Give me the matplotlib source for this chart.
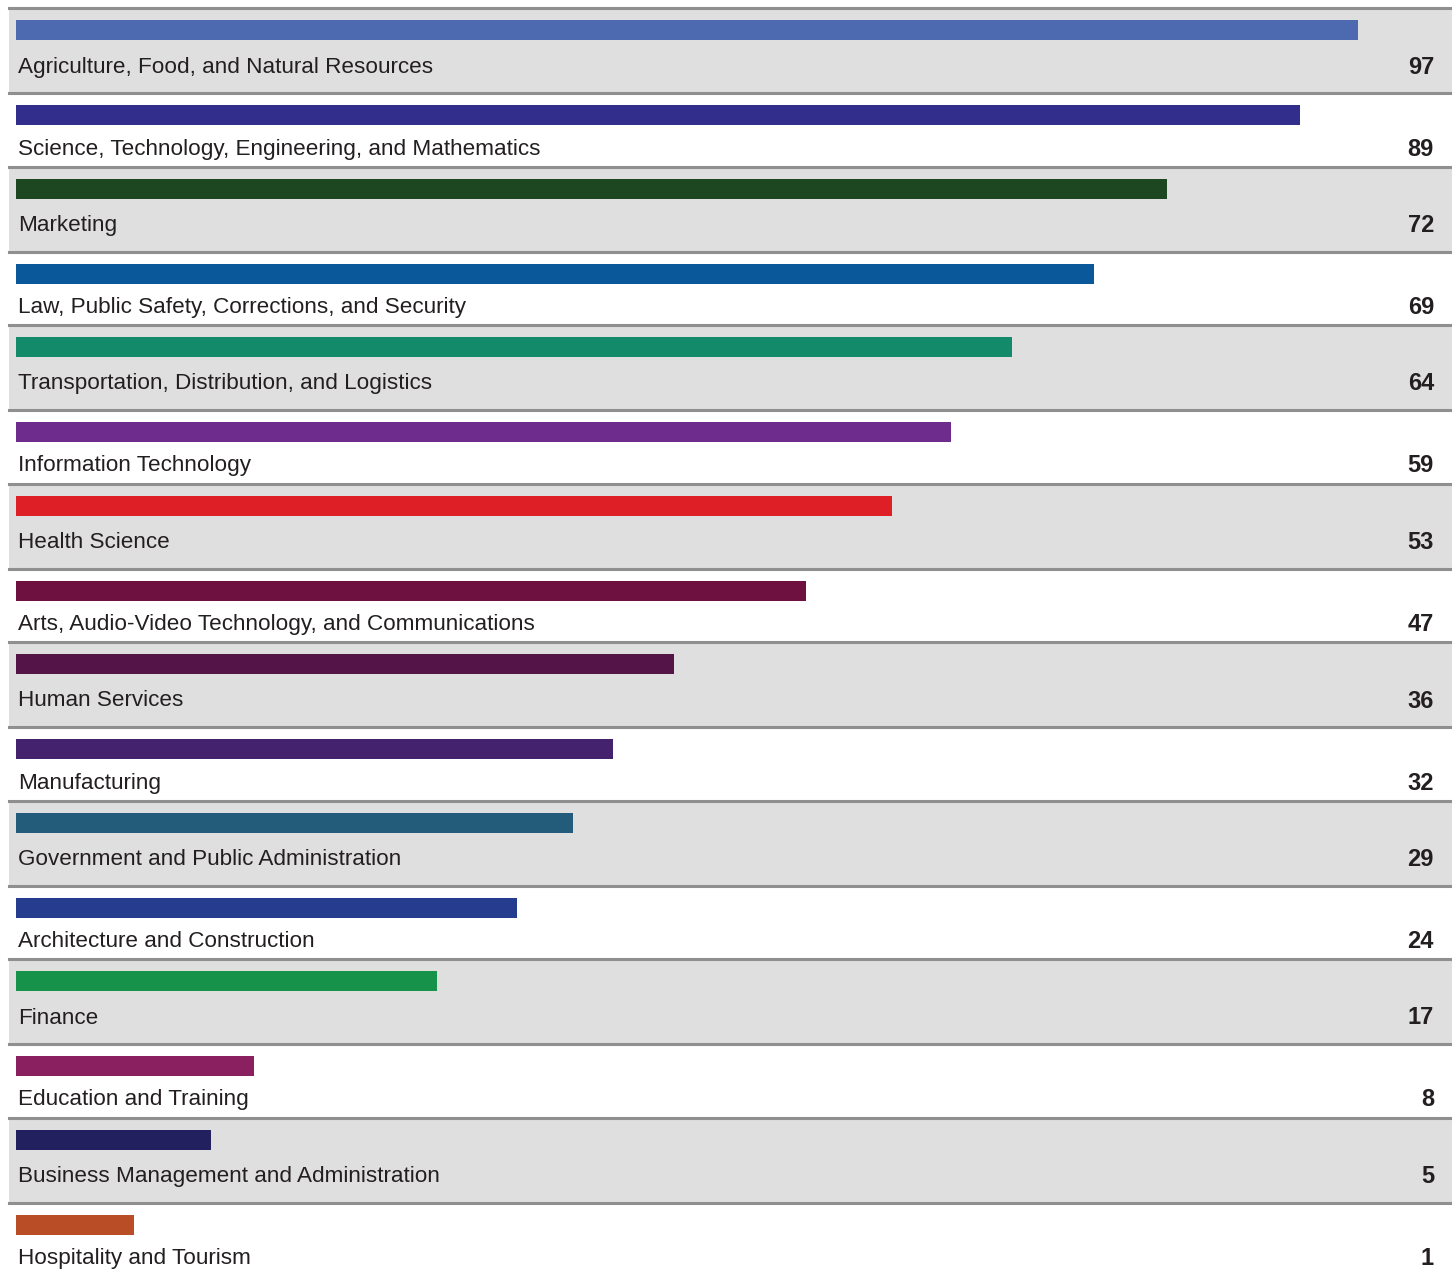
import matplotlib.pyplot as plt

# --- Data (top to bottom) ---
categories = [
    "Agriculture, Food, and Natural Resources",
    "Science, Technology, Engineering, and Mathematics",
    "Marketing",
    "Law, Public Safety, Corrections, and Security",
    "Transportation, Distribution, and Logistics",
    "Information Technology",
    "Health Science",
    "Arts, Audio-Video Technology, and Communications",
    "Human Services",
    "Manufacturing",
    "Government and Public Administration",
    "Architecture and Construction",
    "Finance",
    "Education and Training",
    "Business Management and Administration",
    "Hospitality and Tourism",
]
values = [97, 89, 72, 69, 64, 59, 53, 47, 36, 32, 29, 24, 17, 8, 5, 1]
# bar lengths as drawn (relative, longest bar = 100)
bar_lengths = [100, 95.7, 85.8, 80.3, 74.2, 69.7, 65.3, 58.9,
               49.0, 44.5, 41.5, 37.3, 31.4, 17.7, 14.5, 8.8]
bar_colors = [
    "#4d69b0", "#312e8c", "#1c4721", "#0a5899", "#138a6a", "#6e2d8c",
    "#de1f26", "#6e1040", "#551447", "#45226e", "#235b7a", "#263d8f",
    "#16924a", "#8a2060", "#232060", "#b84d26",
]

# --- Layout (pixels) ---
W, H = 1452, 1276
PX_PER_UNIT = 13.42
X0 = 16            # bar start, pixels
GREY_H, WHITE_H = 85, 73.5
TOP = 8

plt.rcParams["font.family"] = ["Liberation Sans", "DejaVu Sans"]
fig = plt.figure(figsize=(W / 100, H / 100), dpi=100)
fig.set_facecolor("white")
ax = fig.add_axes([0, 0, 1, 1])
ax.set_xlim(-X0 / PX_PER_UNIT, (W - X0) / PX_PER_UNIT)
ax.set_ylim(H, 0)
ax.axis("off")

x_label = (18 - X0) / PX_PER_UNIT
x_value = (1434 - X0) / PX_PER_UNIT

row_top = TOP
bar_y = []
for i, cat in enumerate(categories):
    grey = i % 2 == 0
    h = GREY_H if grey else WHITE_H
    if grey:
        ax.axhspan(row_top, row_top + h, xmin=9 / W, xmax=1, color="#e0dfe0",
                   zorder=0, lw=0)
    bar_y.append(row_top + 22)
    text_y = row_top + (59 if grey else 56)
    ax.text(x_label, text_y, cat, ha="left", va="center",
            fontsize=16.2, color="#231f20")
    ax.text(x_value, text_y, str(values[i]), ha="right", va="center",
            fontsize=17, fontweight="bold", color="#231f20")
    ax.axhline(row_top, xmin=9 / W, xmax=1, color="#8f8f8f", lw=2.2, zorder=1)
    row_top += h

ax.barh(bar_y, bar_lengths, height=20, left=0, color=bar_colors, zorder=2)

plt.savefig("out.png", dpi=100, facecolor=fig.get_facecolor())
plt.close(fig)
